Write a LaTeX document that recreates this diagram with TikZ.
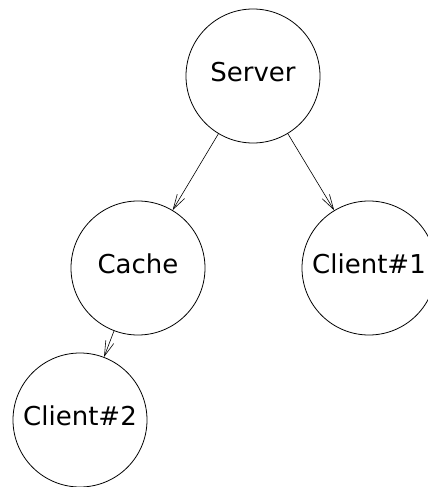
\documentclass[tikz,border=0pt]{standalone}
\usepackage{fontspec}
\setmainfont{DejaVu Sans}
\usetikzlibrary{arrows.meta}
\begin{document}
\begin{tikzpicture}[x=1pt,y=-1pt,
  vertex/.style={circle,draw,line width=0.8pt,minimum size=134pt,inner sep=0pt,
    font=\fontsize{26}{31}\selectfont,text height=19pt,text depth=8pt},
  edge/.style={line width=0.6pt,-{Straight Barb[length=15pt,width=8.5pt,line width=0.6pt]}}]
\useasboundingbox (0,0) rectangle (428,487);
\node[vertex] (server) at (253,76) {Server};
\node[vertex] (cache) at (138,268) {Cache};
\node[vertex] (client1) at (369,268) {Client\#1};
\node[vertex] (client2) at (80,420) {Client\#2};
\draw[edge] (server) -- (cache);
\draw[edge] (server) -- (client1);
\draw[edge] (cache) -- (client2);
\end{tikzpicture}
\end{document}
